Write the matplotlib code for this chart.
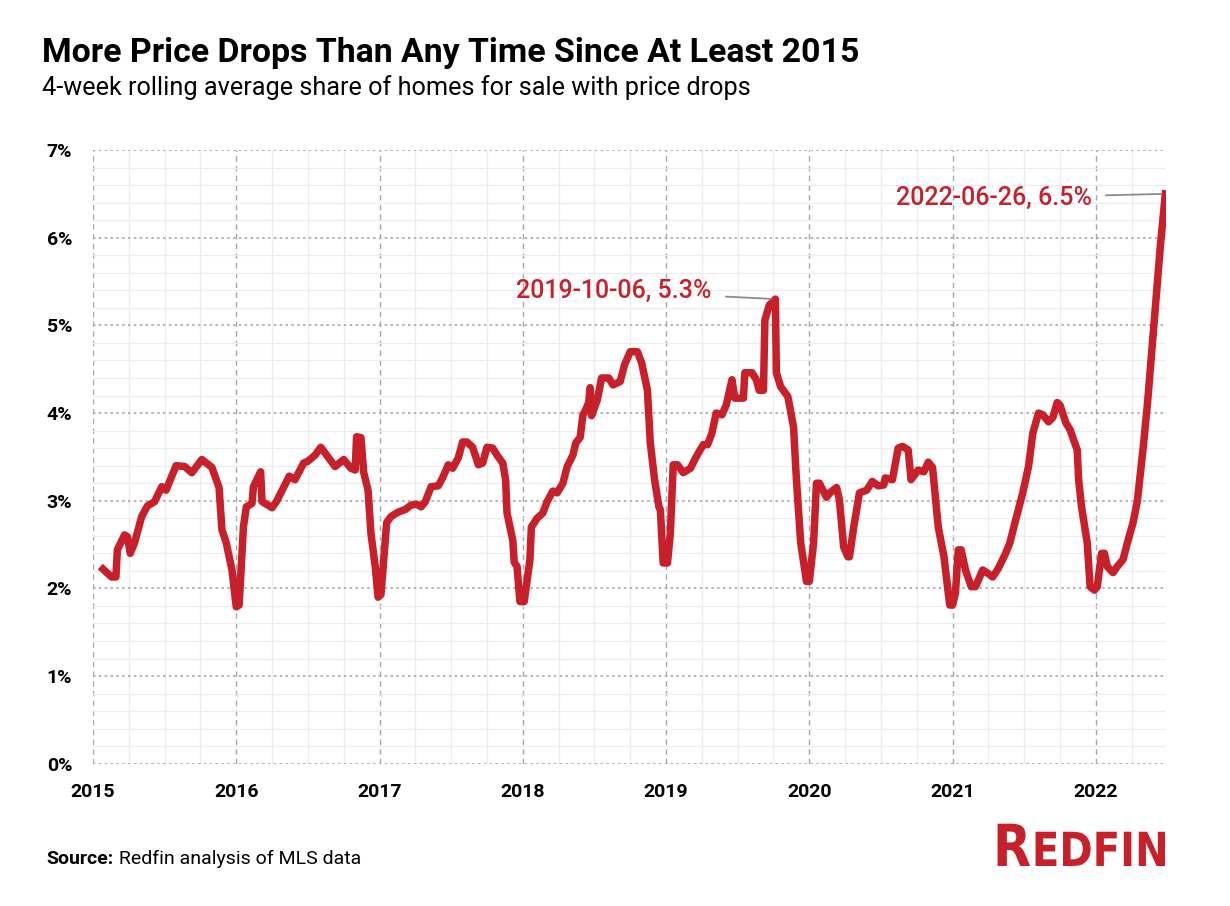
import matplotlib.pyplot as plt
from matplotlib.ticker import MultipleLocator, FuncFormatter
from matplotlib.textpath import TextPath
from matplotlib.patches import PathPatch
from matplotlib.font_manager import FontProperties
from matplotlib.transforms import Affine2D

# decimal year, share of listings with a price drop (%)
years = [
    2015.07, 2015.13, 2015.16, 2015.17, 2015.22, 2015.24, 2015.26, 2015.29, 2015.34, 2015.38,
    2015.43, 2015.48, 2015.51, 2015.54, 2015.58, 2015.64, 2015.69, 2015.76, 2015.83, 2015.88,
    2015.90, 2015.93, 2015.97, 2016.00, 2016.02, 2016.05, 2016.07, 2016.11, 2016.12, 2016.17,
    2016.18, 2016.25, 2016.28, 2016.32, 2016.37, 2016.41, 2016.47, 2016.50, 2016.55, 2016.59,
    2016.64, 2016.69, 2016.75, 2016.80, 2016.83, 2016.84, 2016.87, 2016.89, 2016.92, 2016.94,
    2016.97, 2016.99, 2017.01, 2017.05, 2017.08, 2017.13, 2017.18, 2017.22, 2017.26, 2017.29,
    2017.32, 2017.36, 2017.41, 2017.44, 2017.48, 2017.51, 2017.55, 2017.58, 2017.61, 2017.65,
    2017.69, 2017.72, 2017.75, 2017.79, 2017.82, 2017.86, 2017.88, 2017.89, 2017.93, 2017.94,
    2017.96, 2017.98, 2018.01, 2018.05, 2018.06, 2018.10, 2018.14, 2018.17, 2018.21, 2018.24,
    2018.28, 2018.31, 2018.35, 2018.37, 2018.40, 2018.42, 2018.44, 2018.46, 2018.47, 2018.48,
    2018.52, 2018.55, 2018.60, 2018.63, 2018.68, 2018.71, 2018.75, 2018.80, 2018.83, 2018.87,
    2018.89, 2018.92, 2018.95, 2018.96, 2018.98, 2019.01, 2019.03, 2019.05, 2019.08, 2019.12,
    2019.17, 2019.21, 2019.26, 2019.29, 2019.32, 2019.35, 2019.39, 2019.42, 2019.46, 2019.48,
    2019.54, 2019.55, 2019.60, 2019.63, 2019.65, 2019.68, 2019.69, 2019.72, 2019.763, 2019.77,
    2019.80, 2019.85, 2019.89, 2019.91, 2019.94, 2019.98, 2020.00, 2020.03, 2020.05, 2020.07,
    2020.12, 2020.15, 2020.19, 2020.21, 2020.24, 2020.27, 2020.28, 2020.31, 2020.35, 2020.40,
    2020.44, 2020.48, 2020.52, 2020.53, 2020.58, 2020.62, 2020.65, 2020.69, 2020.71, 2020.76,
    2020.80, 2020.83, 2020.86, 2020.88, 2020.90, 2020.94, 2020.97, 2020.98, 2021.00, 2021.02,
    2021.04, 2021.06, 2021.09, 2021.13, 2021.16, 2021.21, 2021.24, 2021.28, 2021.32, 2021.37,
    2021.40, 2021.44, 2021.49, 2021.53, 2021.56, 2021.60, 2021.63, 2021.67, 2021.70, 2021.73,
    2021.75, 2021.79, 2021.82, 2021.87, 2021.88, 2021.90, 2021.94, 2021.96, 2021.99, 2022.01,
    2022.04, 2022.06, 2022.08, 2022.12, 2022.15, 2022.19, 2022.22, 2022.26, 2022.29, 2022.33,
    2022.36, 2022.39, 2022.42, 2022.45, 2022.485,
]
share = [
    2.22, 2.13, 2.13, 2.44, 2.61, 2.59, 2.40, 2.52, 2.82, 2.94,
    2.99, 3.16, 3.12, 3.24, 3.40, 3.39, 3.32, 3.47, 3.38, 3.15,
    2.67, 2.52, 2.21, 1.79, 1.81, 2.70, 2.93, 2.97, 3.16, 3.33,
    2.99, 2.92, 2.99, 3.12, 3.28, 3.24, 3.43, 3.45, 3.52, 3.61,
    3.50, 3.39, 3.47, 3.37, 3.35, 3.73, 3.72, 3.32, 3.12, 2.63,
    2.25, 1.90, 1.93, 2.75, 2.82, 2.87, 2.90, 2.95, 2.96, 2.93,
    2.99, 3.16, 3.17, 3.26, 3.41, 3.37, 3.49, 3.67, 3.67, 3.61,
    3.41, 3.43, 3.61, 3.60, 3.52, 3.43, 3.24, 2.86, 2.55, 2.30,
    2.25, 1.85, 1.85, 2.33, 2.70, 2.80, 2.86, 2.99, 3.11, 3.09,
    3.20, 3.39, 3.52, 3.66, 3.72, 3.98, 4.04, 4.12, 4.29, 3.97,
    4.15, 4.40, 4.40, 4.32, 4.36, 4.55, 4.70, 4.70, 4.57, 4.26,
    3.66, 3.24, 2.93, 2.90, 2.29, 2.29, 2.63, 3.41, 3.41, 3.32,
    3.37, 3.50, 3.64, 3.64, 3.77, 4.00, 3.98, 4.09, 4.38, 4.17,
    4.17, 4.46, 4.46, 4.38, 4.26, 4.26, 5.06, 5.23, 5.30, 4.46,
    4.30, 4.19, 3.84, 3.24, 2.52, 2.08, 2.08, 2.52, 3.20, 3.20,
    3.04, 3.10, 3.15, 3.01, 2.47, 2.36, 2.36, 2.70, 3.09, 3.12,
    3.22, 3.17, 3.18, 3.26, 3.24, 3.60, 3.62, 3.58, 3.24, 3.35,
    3.33, 3.44, 3.38, 3.04, 2.70, 2.36, 1.95, 1.81, 1.81, 1.95,
    2.44, 2.44, 2.21, 2.02, 2.02, 2.21, 2.18, 2.13, 2.23, 2.40,
    2.52, 2.78, 3.09, 3.39, 3.77, 4.00, 3.98, 3.90, 3.95, 4.12,
    4.09, 3.89, 3.81, 3.58, 3.24, 2.93, 2.52, 2.02, 1.98, 2.02,
    2.40, 2.40, 2.25, 2.18, 2.25, 2.33, 2.52, 2.75, 3.00, 3.60,
    4.10, 4.70, 5.30, 5.90, 6.50,
]

peak_2019 = (2019.763, 5.30, "2019-10-06, 5.3%")
last_point = (2022.485, 6.50, "2022-06-26, 6.5%")

RED = "#c8202a"
FONT = ["Roboto", "DejaVu Sans"]
plt.rcParams["font.family"] = FONT

fig = plt.figure(figsize=(12.3, 9.06), dpi=100)
ax = fig.add_axes([0.0756, 0.157, 0.8724, 0.6774])

ax.plot(years, share, color=RED, lw=5.4, solid_joinstyle="round", zorder=3)

ax.set_xlim(2015, 2022.49)
ax.set_ylim(0, 7)
ax.xaxis.set_major_locator(MultipleLocator(1))
ax.xaxis.set_minor_locator(MultipleLocator(0.25))
ax.yaxis.set_major_locator(MultipleLocator(1))
ax.yaxis.set_minor_locator(MultipleLocator(0.2))
ax.xaxis.set_major_formatter(FuncFormatter(lambda v, p: f"{int(round(v))}"))
ax.yaxis.set_major_formatter(FuncFormatter(lambda v, p: f"{int(round(v))}%"))

ax.grid(which="minor", color="#ececec", lw=0.9, ls="-")
ax.grid(which="major", axis="y", color="#a8a8a8", lw=1.2, ls=(0, (1.5, 2)))
ax.grid(which="major", axis="x", color="#a8a8a8", lw=1.0, ls=(0, (4, 3)))
ax.set_axisbelow(True)
for s in ax.spines.values():
    s.set_visible(False)
ax.tick_params(which="both", length=0)
ax.tick_params(axis="x", pad=14, labelsize=14)
ax.tick_params(axis="y", pad=15, labelsize=14)
for lab in ax.get_xticklabels() + ax.get_yticklabels():
    lab.set_fontweight("bold")

# annotations of the two peaks
ax.annotate(peak_2019[2], xy=peak_2019[:2], xytext=(712, 906 - 291), textcoords="figure pixels",
            ha="right", va="center", color=RED, fontsize=18, fontweight="medium",
            arrowprops=dict(arrowstyle="-", color="#8c8c8c", lw=1.3, shrinkA=8, shrinkB=3))
ax.annotate(last_point[2], xy=last_point[:2], xytext=(1092, 906 - 198), textcoords="figure pixels",
            ha="right", va="center", color=RED, fontsize=18, fontweight="medium",
            arrowprops=dict(arrowstyle="-", color="#8c8c8c", lw=1.3, shrinkA=8, shrinkB=3))

fig.text(0.034, 0.942, "More Price Drops Than Any Time Since At Least 2015",
         fontsize=24.4, fontweight="bold", va="center")
fig.text(0.034, 0.903, "4-week rolling average share of homes for sale with price drops",
         fontsize=18.2, va="center")

src = fig.text(0.038, 0.052, "Source:", fontsize=14, fontweight="bold", va="center")
ax.annotate(" Redfin analysis of MLS data", xy=(1, 0.5), xycoords=src, va="center",
            fontsize=14)

# logo: big R + smaller EDFIN, drawn as paths so it can be squeezed to width
fp = FontProperties(family="DejaVu Sans", weight="bold")
path_r = TextPath((0, 0), "R", size=58, prop=fp)
path_rest = TextPath((0, 0), "EDFIN", size=47, prop=fp)
w_r = path_r.get_extents().x1
w_rest = path_rest.get_extents().x1
gap = 2
sx = 172 / (w_r + gap + w_rest)
x0, base = 993, 906 - 866
fig.add_artist(PathPatch(path_r, transform=Affine2D().scale(sx, 1).translate(x0, base),
                         color=RED, lw=0))
fig.add_artist(PathPatch(path_rest,
                         transform=Affine2D().scale(sx, 1).translate(x0 + sx * (w_r + gap), base),
                         color=RED, lw=0))

fig.savefig("out.png", dpi=100, facecolor="white")
plt.close()
